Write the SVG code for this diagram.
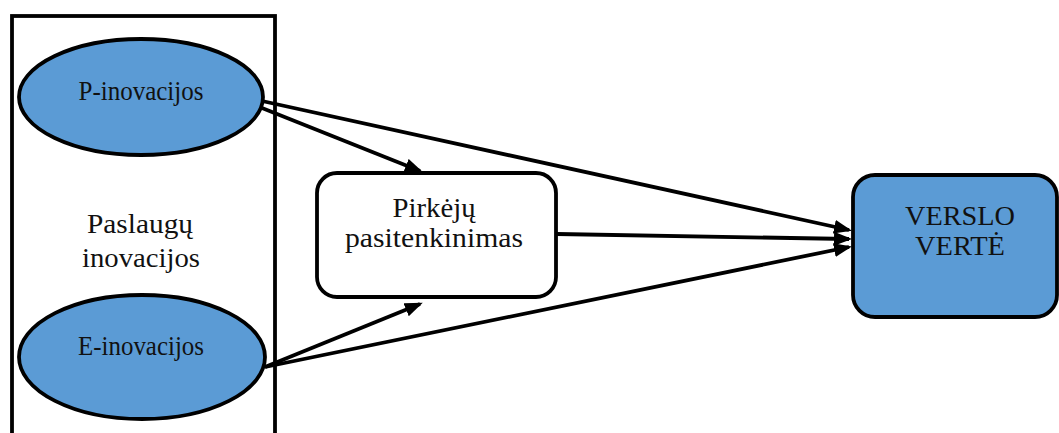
<svg xmlns="http://www.w3.org/2000/svg" width="1059" height="433" viewBox="0 0 1059 433">
<style>
.t{font-family:"Liberation Serif","Times New Roman",serif;font-size:27px;fill:#111;text-anchor:middle}
.b{fill:#5b9bd5;stroke:#000;stroke-width:3.8}
.w{fill:#fff;stroke:#000;stroke-width:3.8}
.c line{stroke:#000;stroke-width:3.8;fill:none;marker-end:url(#ah)}
</style>
<defs>
<marker id="ah" markerUnits="userSpaceOnUse" markerWidth="20" markerHeight="15" refX="15" refY="7" orient="auto">
<path d="M0,0 L18,7 L0,14 Z" fill="#000"/>
</marker>
</defs>
<rect width="1059" height="433" fill="#fff"/>
<g id="group-paslaugu">
<rect x="12" y="16" width="263" height="430" fill="none" stroke="#000" stroke-width="3.8"/>
<text class="t" x="140" y="233" textLength="106" lengthAdjust="spacingAndGlyphs">Paslaugų</text>
<text class="t" x="141" y="267" textLength="118" lengthAdjust="spacingAndGlyphs">inovacijos</text>
</g>
<g id="node-p">
<ellipse class="b" cx="141" cy="97" rx="122" ry="58"/>
<text class="t" x="141" y="100" textLength="125" lengthAdjust="spacingAndGlyphs">P-inovacijos</text>
</g>
<g id="node-e">
<ellipse class="b" cx="142" cy="357" rx="123" ry="62"/>
<text class="t" x="141" y="355" textLength="126" lengthAdjust="spacingAndGlyphs">E-inovacijos</text>
</g>
<g id="node-pirkeju">
<rect class="w" x="317" y="173" width="239" height="124" rx="20"/>
<text class="t" x="434" y="217" textLength="83" lengthAdjust="spacingAndGlyphs">Pirkėjų</text>
<text class="t" x="434" y="247" textLength="178" lengthAdjust="spacingAndGlyphs">pasitenkinimas</text>
</g>
<g id="node-verslo">
<rect class="b" x="853" y="175" width="204" height="142" rx="22"/>
<text class="t" x="960" y="225" textLength="110" lengthAdjust="spacingAndGlyphs">VERSLO</text>
<text class="t" x="960" y="255" textLength="90" lengthAdjust="spacingAndGlyphs">VERTĖ</text>
</g>
<g id="connectors" class="c">
<line x1="262" y1="101" x2="849" y2="230"/>
<line x1="262" y1="108" x2="420" y2="171"/>
<line x1="557" y1="234" x2="849" y2="239"/>
<line x1="265" y1="367" x2="420" y2="304"/>
<line x1="265" y1="367" x2="849" y2="247"/>
</g>
</svg>
